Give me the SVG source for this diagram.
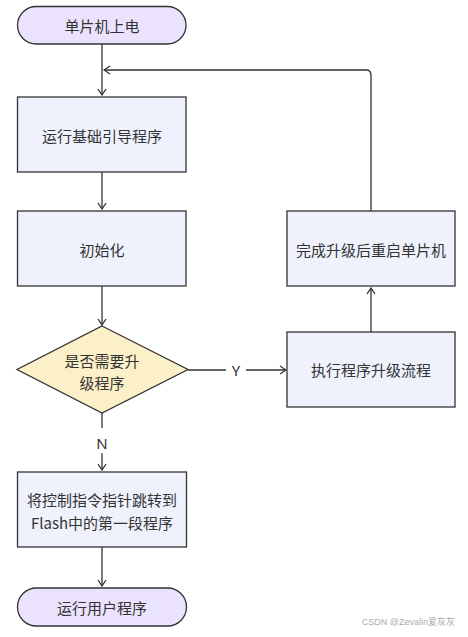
<svg xmlns="http://www.w3.org/2000/svg" width="468" height="637" viewBox="0 0 468 637">
<style>
.t{font-family:"Noto Sans CJK SC","Noto Sans",sans-serif;font-size:15px;fill:#333;text-anchor:middle;dominant-baseline:central}
.term{fill:#ebe3fd;stroke:#333;stroke-width:1.3}
.box{fill:#eff2fc;stroke:#333;stroke-width:1.3}
.dia{fill:#fcf0c8;stroke:#333;stroke-width:1.3}
.c{fill:none;stroke:#333;stroke-width:1.3}
.lbl{font-family:"Noto Sans","Liberation Sans",sans-serif;font-size:15px;fill:#333;text-anchor:middle;dominant-baseline:central}
</style>
<defs>
<marker id="a" viewBox="0 0 10 10" refX="9" refY="5" markerWidth="10" markerHeight="10" markerUnits="userSpaceOnUse" orient="auto">
<path d="M3,1 L9,5 L3,9" fill="none" stroke="#333" stroke-width="1.3"/>
</marker>
</defs>
<rect width="468" height="637" fill="#fff"/>
<g id="connectors">
<path class="c" d="M102,44 V95" marker-end="url(#a)"/>
<path class="c" d="M102,172 V209" marker-end="url(#a)"/>
<path class="c" d="M102,286 V325" marker-end="url(#a)"/>
<path class="c" d="M188,370 H226"/>
<text class="lbl" x="236" y="370">Y</text>
<path class="c" d="M246,370 H286" marker-end="url(#a)"/>
<path class="c" d="M371,332 V288" marker-end="url(#a)"/>
<path class="c" d="M371,211 V75 Q371,70 366,70 H104" marker-end="url(#a)"/>
<path class="c" d="M102,413 V428"/>
<text class="lbl" x="102" y="443">N</text>
<path class="c" d="M102,453 V470" marker-end="url(#a)"/>
<path class="c" d="M102,547 V586" marker-end="url(#a)"/>
</g>
<g id="start">
<rect class="term" x="17.5" y="6.5" width="168.5" height="37.5" rx="18.75"/>
<text class="t" x="102" y="25">单片机上电</text>
</g>
<g id="boot">
<rect class="box" x="17.5" y="97" width="168.5" height="75"/>
<text class="t" x="102" y="135">运行基础引导程序</text>
</g>
<g id="init">
<rect class="box" x="17.5" y="211" width="168.5" height="75"/>
<text class="t" x="102" y="249">初始化</text>
</g>
<g id="decision">
<polygon class="dia" points="102,326 188,369.5 102,413 17,369.5"/>
<text class="t" x="102" y="360">是否需要升</text>
<text class="t" x="102" y="382">级程序</text>
</g>
<g id="upgrade">
<rect class="box" x="287" y="332" width="168" height="75"/>
<text class="t" x="371" y="369.5">执行程序升级流程</text>
</g>
<g id="restart">
<rect class="box" x="287" y="211" width="168" height="75"/>
<text class="t" x="371" y="249">完成升级后重启单片机</text>
</g>
<g id="jump">
<rect class="box" x="17.5" y="472" width="169" height="75"/>
<text class="t" x="102" y="499">将控制指令指针跳转到</text>
<text class="t" x="102" y="522">Flash中的第一段程序</text>
</g>
<g id="end">
<rect class="term" x="17.5" y="588" width="169" height="38" rx="19"/>
<text class="t" x="102" y="607">运行用户程序</text>
</g>
<text x="455" y="625" font-family="Liberation Sans, sans-serif" font-size="9" fill="#aaa" text-anchor="end">CSDN @Zevalin<tspan font-family="Noto Sans CJK SC, sans-serif">爱灰灰</tspan></text>
</svg>
